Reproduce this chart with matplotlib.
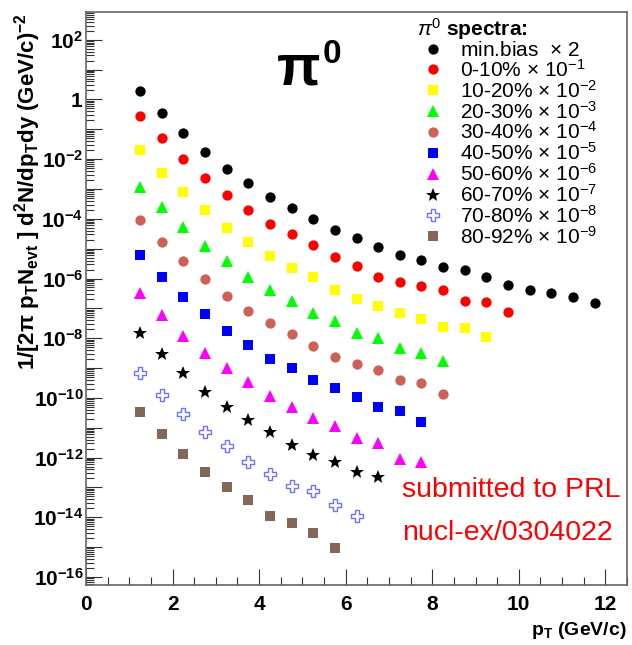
import numpy as np
import matplotlib.pyplot as plt
from matplotlib.ticker import FixedLocator, LogLocator, FuncFormatter, MultipleLocator, NullFormatter

plt.rcParams['font.family'] = 'Liberation Sans'
plt.rcParams['mathtext.fontset'] = 'custom'
plt.rcParams['mathtext.rm'] = 'Liberation Sans'
plt.rcParams['mathtext.it'] = 'Liberation Sans:italic'
plt.rcParams['mathtext.bf'] = 'Liberation Sans:bold'

# pT bin centres (GeV/c)
pt = [1.25, 1.75, 2.25, 2.75, 3.25, 3.75, 4.25, 4.75, 5.25, 5.75, 6.25,
      6.75, 7.25, 7.75, 8.25, 8.75, 9.25, 9.75, 10.25, 10.75, 11.25, 11.75]

# log10 of the scaled invariant yields
minbias = [0.29, -0.45, -1.12, -1.76, -2.33, -2.79, -3.26, -3.63, -4.00, -4.37, -4.65,
           -4.93, -5.21, -5.38, -5.60, -5.73, -5.94, -6.21, -6.38, -6.47, -6.63, -6.81]
c0_10 = [-0.57, -1.30, -1.99, -2.64, -3.20, -3.70, -4.17, -4.50, -4.87, -5.29, -5.57,
         -5.94, -6.12, -6.24, -6.40, -6.75, -6.79, -7.11]
c10_20 = [-1.71, -2.45, -3.11, -3.72, -4.31, -4.78, -5.23, -5.65, -5.96, -6.40, -6.68,
          -6.92, -7.16, -7.34, -7.64, -7.67, -7.95]
c20_30 = [-2.92, -3.59, -4.29, -4.91, -5.43, -5.94, -6.38, -6.77, -7.14, -7.44, -7.81,
          -8.00, -8.34, -8.50, -8.76]
c30_40 = [-4.03, -4.76, -5.43, -6.02, -6.58, -7.10, -7.48, -7.87, -8.27, -8.62, -8.87,
          -9.06, -9.40, -9.51, -9.87]
c40_50 = [-5.21, -5.94, -6.61, -7.20, -7.76, -8.23, -8.70, -9.01, -9.40, -9.68, -9.98,
          -10.31, -10.44, -10.80]
c50_60 = [-6.49, -7.22, -7.92, -8.50, -9.01, -9.46, -9.93, -10.29, -10.68, -10.94,
          -11.33, -11.52, -12.06, -12.16]
c60_70 = [-7.81, -8.53, -9.15, -9.79, -10.29, -10.74, -11.15, -11.58, -11.93, -12.14,
          -12.49, -12.64]
c70_80 = [-9.17, -9.90, -10.54, -11.13, -11.61, -12.14, -12.55, -12.94, -13.12, -13.59,
          -13.95]
c80_92 = [-10.48, -11.22, -11.88, -12.47, -12.98, -13.42, -13.95, -14.20, -14.53, -15.02]

series = [
    (minbias, r'min.bias  $\times$ 2', 'o', '#000000', 7.4),
    (c0_10, r'0-10% $\times$ 10$^{-1}$', 'o', '#ff0000', 7.4),
    (c10_20, r'10-20% $\times$ 10$^{-2}$', 's', '#ffff00', 7.4),
    (c20_30, r'20-30% $\times$ 10$^{-3}$', '^', '#00ff00', 8.2),
    (c30_40, r'30-40% $\times$ 10$^{-4}$', 'o', '#cd6158', 7.4),
    (c40_50, r'40-50% $\times$ 10$^{-5}$', 's', '#0000ff', 7.0),
    (c50_60, r'50-60% $\times$ 10$^{-6}$', '^', '#ff00ff', 8.2),
    (c60_70, r'60-70% $\times$ 10$^{-7}$', '*', '#000000', 10.0),
    (c70_80, r'70-80% $\times$ 10$^{-8}$', 'P', '#7070ff', 8.5),
    (c80_92, r'80-92% $\times$ 10$^{-9}$', 's', '#85675a', 7.4),
]

fig = plt.figure(figsize=(6.32, 6.45), dpi=100)
ax = fig.add_axes([0.1361, 0.0930, 0.8560, 0.8884])

for vals, lab, mk, col, ms in series:
    y = 10 ** np.array(vals)
    if mk == 'P':
        ax.plot(pt[:len(vals)], y, ls='none', marker=mk, ms=ms, mfc='white',
                mec=col, mew=1.0, label=lab)
    else:
        ax.plot(pt[:len(vals)], y, ls='none', marker=mk, ms=ms, color=col,
                mew=0, label=lab)

ax.set_yscale('log')
ax.set_xlim(0, 12.5)
ax.set_ylim(10 ** -16.27, 10 ** 2.93)

def ylab(v, pos):
    e = int(round(np.log10(v)))
    if e % 2:
        return ''
    if e == 0:
        return r'$\mathbf{1}$'
    return r'$\mathbf{10^{%d}}$' % e

ax.yaxis.set_major_locator(FixedLocator([10.0 ** e for e in range(-16, 3)]))
ax.yaxis.set_minor_locator(LogLocator(base=10, subs=np.arange(2, 10), numticks=40))
ax.yaxis.set_major_formatter(FuncFormatter(ylab))
ax.yaxis.set_minor_formatter(NullFormatter())
ax.xaxis.set_major_locator(MultipleLocator(2))
ax.xaxis.set_minor_locator(MultipleLocator(0.5))
ax.xaxis.set_major_formatter(FuncFormatter(lambda v, p: '%d' % v))

ax.tick_params(which='both', direction='in', top=False, right=False, colors='#333333',
               width=0.8)
ax.tick_params(which='major', length=11.5)
ax.tick_params(which='minor', length=5.5)
ax.tick_params(axis='x', labelsize=15, pad=7, labelcolor='black')
ax.tick_params(axis='y', labelsize=15, pad=2, labelcolor='black')
for t in ax.get_xticklabels():
    t.set_fontweight('bold')
for s in ax.spines.values():
    s.set_color('#666666')
    s.set_linewidth(1.2)

ax.set_ylabel(r'$\mathbf{1/[2\pi\ p_{T}N_{evt}\ ]\ d^{2}N/dp_{T}dy\ (GeV/c)^{-2}}$',
              fontsize=16, va='center')
ax.yaxis.set_label_coords(-0.108, 0.686)
ax.set_xlabel(r'$\mathbf{p_{T}}$ (GeV/c)', fontsize=14, fontweight='bold',
              ha='right', va='center')
ax.xaxis.set_label_coords(1.0, -0.079)

ax.text(0.353, 0.8726, 'π', fontsize=41, fontweight='bold', transform=ax.transAxes,
        va='baseline')
ax.text(0.437, 0.911, '0', fontsize=24, fontweight='bold', transform=ax.transAxes,
        va='baseline')

ax.text(0.5835, 0.1536, 'submitted to PRL', fontsize=20.5, color='#ff0000',
        transform=ax.transAxes, va='baseline')
ax.text(0.5835, 0.0785, 'nucl-ex/0304022', fontsize=20.5, color='#ff0000',
        transform=ax.transAxes, va='baseline')

leg = ax.legend(loc='upper left', bbox_to_anchor=(0.612, 0.993), frameon=False,
                fontsize=15, title=r'$\pi^0$ spectra:', borderaxespad=0, borderpad=0,
                handlelength=1.5, handletextpad=0.55, labelspacing=-0.05,
                alignment='left', title_fontproperties={'size': 15, 'weight': 'bold'})

fig.savefig('out.png', dpi=100)
